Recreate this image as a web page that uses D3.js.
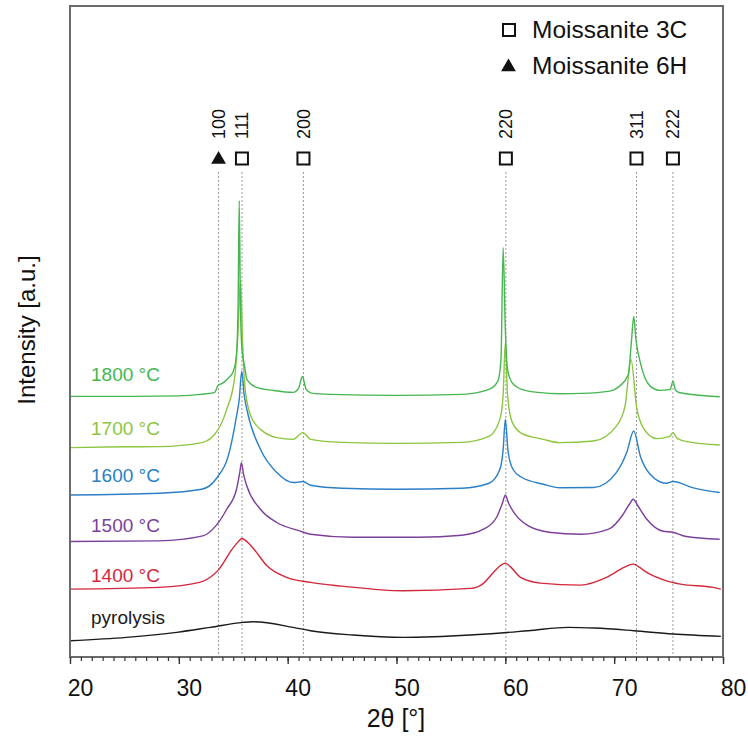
<!DOCTYPE html>
<html>
<head>
<meta charset="utf-8">
<script src="https://cdn.jsdelivr.net/npm/d3@7"></script>
<style>
  body { margin: 0; background: #fff; }
  svg { display: block; font-family: "Liberation Sans", Arial, sans-serif; }
</style>
</head>
<body>
<div id="chart"></div>
<script>
// XRD patterns, [2theta, intensity a.u.] (already stacked)
var pyrolysis = [[20,16.3],[25.2,19.7],[29.8,24.7],[32.9,29.7],[35.9,34.7],[36.8,35.3],[40.5,29.7],[42.1,26.3],
  [46,22],[50.6,19.7],[56.8,22],[62.1,26.3],[65.8,29.7],[68.2,29],[71.8,26.3],[75.4,23],[79.8,20.7]]
var t1400 = [[20,68],[28.2,69.7],[31.9,74.7],[33.7,88],[34.9,108],[35.5,116],[35.8,118.7],[36.2,116],[36.9,108],[38.1,91.3],
  [39.9,79.7],[42.1,74.7],[45,71],[50.6,66.3],[56.8,68.7],[57.9,73],[58.9,84.7],[59.6,92],[60,94],[60.5,90],[61.4,79.7],
  [63.2,74],[66.9,72],[69.3,79.7],[70.9,89.7],[71.5,92.5],[71.8,93],[72.3,90],[73,84.7],[74.8,76.3],[76.1,73],[79.1,69.7],[79.8,68]]
var t1500 = [[20,115.7],[28.2,116.3],[32.2,121.3],[33.4,131.3],[34.4,148],[35.3,168],[35.6,185],[35.75,194.7],[35.95,183],
  [36.25,171.3],[37.5,148],[39,134.7],[41.1,126.3],[42.1,123],[46,120],[52,120],[56,122],[58,128],[59.2,140],[59.7,153],
  [60,162],[60.3,154],[60.9,143],[62,132],[64,125],[67,123],[69.5,128],[70.7,141],[71.4,153],[71.75,158],[72.2,151],
  [73,138],[74.5,126],[75.4,125],[76.5,121],[79.7,118]]
var t1600 = [[20,162.3],[28.2,164],[32.1,168],[33.4,178],[34.7,208],[35.3,241.3],[35.55,258],[35.78,286.3],[36,263],
  [36.25,248],[37.5,208],[39,184.7],[40.5,174.7],[41.4,175.7],[42.1,172],[45,169],[50,168],[56,169],[58.5,174],[59.5,188],
  [59.8,208],[60,238],[60.25,206],[60.7,188],[61.5,180],[63.5,173],[65,169.5],[68.1,169.7],[70.2,184.7],[71.15,204.7],
  [71.8,226.3],[72.4,201.3],[73.3,183],[74.8,174],[75.4,175.7],[77.2,169.7],[79.7,164.7]]
var t1700 = [[20,209.7],[25,210.5],[28.2,210.7],[32.1,214.7],[33.5,226],[34.4,248],[35.15,281.3],[35.4,318],[35.68,378],
  [35.85,318],[36.05,273],[36.5,245],[37.3,230],[37.5,228],[39,219.7],[40.5,218],[41.4,224.7],[42.1,218],[45,215],[50,214],
  [56,215],[58.5,221],[59.5,238],[59.8,263],[60,315],[60.2,263],[60.6,236],[61.5,224],[63.5,218],[65,214.7],[68.1,216.3],
  [70.2,231.3],[71,251.3],[71.55,298],[72.05,251.3],[72.65,230],[73.9,218.7],[75.1,221],[75.4,224.7],[75.8,219],[76.7,215.7],[79.7,212.3]]
var t1800 = [[20,261],[25,261],[30,261.5],[32,263],[33.3,265],[33.6,272],[34,274],[34.6,280],[35,286],[35.3,303],
  [35.45,358],[35.55,457],[35.65,358],[35.8,308],[36.05,291],[36.25,278],[37.15,270],[38.65,267],[40.5,265],[41,269],
  [41.35,281],[41.7,268],[42.3,264],[44,263],[50,262],[56,263],[58.5,268],[59.3,276],[59.6,298],[59.8,410],[60,328],
  [60.2,288],[60.6,275],[61.5,268],[63,265],[65,263.7],[67,264],[69.6,266.3],[70.5,271.3],[71.3,283],[71.6,318],[71.8,341],
  [72,318],[72.4,295],[73.3,271.3],[74.2,267],[75.15,268],[75.4,276.3],[75.65,267],[76.05,264.7],[79.7,260.7]]

var seriesNames = ['pyrolysis', '1400 °C', '1500 °C', '1600 °C', '1700 °C', '1800 °C']
var seriesData = [pyrolysis, t1400, t1500, t1600, t1700, t1800]
var seriesColors = ['#1a1a1a', '#d2283c', '#7b3f9b', '#2a7fc6', '#8cc63e', '#45b650']
var labelBase = [624, 582.3, 531.7, 481.7, 435, 380.7]

// reflections
var peakPos = [33.65, 35.8, 41.45, 60.05, 72.05, 75.4]
var peakHkl = ['100', '111', '200', '220', '311', '222']
var peakPhase = ['6H', '3C', '3C', '3C', '3C', '3C']

var width = 748, height = 744
var m = {left: 70, right: 25, top: 6, bottom: 87}

var svg = d3.select('#chart').append('svg')
    .attr('width', width)
    .attr('height', height)

var x = d3.scaleLinear().domain([20, 80]).range([m.left, width - m.right])
var y = d3.scaleLinear().domain([0, 652]).range([height - m.bottom, m.top])

// dashed reference lines
svg.append('g')
    .selectAll('line')
    .data(peakPos)
    .join('line')
    .attr('x1', d => x(d)).attr('x2', d => x(d))
    .attr('y1', 172).attr('y2', y(0))
    .attr('stroke', '#9a9a9a')
    .attr('stroke-width', 1)
    .attr('stroke-dasharray', '2,2')

// curves
var line = d3.line()
    .x(d => x(d[0]))
    .y(d => y(d[1]))
    .curve(d3.curveMonotoneX)

svg.append('g')
    .attr('fill', 'none')
    .selectAll('path')
    .data(seriesData)
    .join('path')
    .attr('stroke', (d, i) => seriesColors[i])
    .attr('stroke-width', 1.4)
    .attr('d', line)

svg.append('g')
    .attr('font-size', 19)
    .selectAll('text')
    .data(seriesNames)
    .join('text')
    .attr('x', 91)
    .attr('y', (d, i) => labelBase[i])
    .attr('fill', (d, i) => seriesColors[i])
    .text(d => d)

// frame
svg.append('rect')
    .attr('x', m.left).attr('y', m.top)
    .attr('width', width - m.left - m.right)
    .attr('height', height - m.top - m.bottom)
    .attr('fill', 'none')
    .attr('stroke', '#6b6b6b')
    .attr('stroke-width', 2)

// x axis
var xAxis = svg.append('g')
    .attr('transform', 'translate(0,' + y(0) + ')')

xAxis.call(d3.axisBottom(x).ticks(60).tickSize(4).tickFormat(''))
xAxis.call(g => g.select('.domain').remove())
xAxis.selectAll('line').attr('stroke', '#333').attr('stroke-width', 1.2)

var xMajor = svg.append('g')
    .attr('transform', 'translate(0,' + y(0) + ')')
    .call(d3.axisBottom(x).tickValues(d3.range(20, 81, 10)).tickSize(7).tickPadding(16))
xMajor.select('.domain').remove()
xMajor.selectAll('line').attr('stroke', '#333').attr('stroke-width', 1.4)
xMajor.selectAll('text')
    .attr('font-size', 23)
    .attr('font-family', '"Liberation Sans", Arial, sans-serif')
    .attr('fill', '#111')
    .attr('dx', 10)

svg.append('text')
    .attr('x', 396)
    .attr('y', 727)
    .attr('text-anchor', 'middle')
    .attr('font-size', 25)
    .attr('fill', '#111')
    .text('2θ [°]')

svg.append('text')
    .attr('transform', 'translate(35,330) rotate(-90)')
    .attr('text-anchor', 'middle')
    .attr('font-size', 24)
    .attr('fill', '#111')
    .text('Intensity [a.u.]')

// markers above the peaks
function marker(g, phase, cx, cy) {
  if (phase === '3C') {
    g.append('rect')
        .attr('x', cx - 6).attr('y', cy - 6)
        .attr('width', 12).attr('height', 12)
        .attr('fill', 'none')
        .attr('stroke', '#111')
        .attr('stroke-width', 2)
  } else {
    g.append('path')
        .attr('d', d3.symbol(d3.symbolTriangle, 95)())
        .attr('transform', 'translate(' + cx + ',' + (cy + 1) + ')')
        .attr('fill', '#111')
  }
}

var pk = svg.append('g')
peakPos.forEach(function(p, i) {
  marker(pk, peakPhase[i], x(p), 158.5)
  pk.append('text')
      .attr('transform', 'translate(' + x(p) + ',139) rotate(-90)')
      .attr('dy', '0.35em')
      .attr('font-size', 18)
      .attr('fill', '#111')
      .text(peakHkl[i])
})

// legend
var legend = svg.append('g')
marker(legend, '3C', 509, 30)
marker(legend, '6H', 508.5, 66)
legend.append('text').attr('x', 532).attr('y', 38).attr('font-size', 24.5).attr('fill', '#111').text('Moissanite 3C')
legend.append('text').attr('x', 532).attr('y', 74).attr('font-size', 24.5).attr('fill', '#111').text('Moissanite 6H')
</script>
</body>
</html>
